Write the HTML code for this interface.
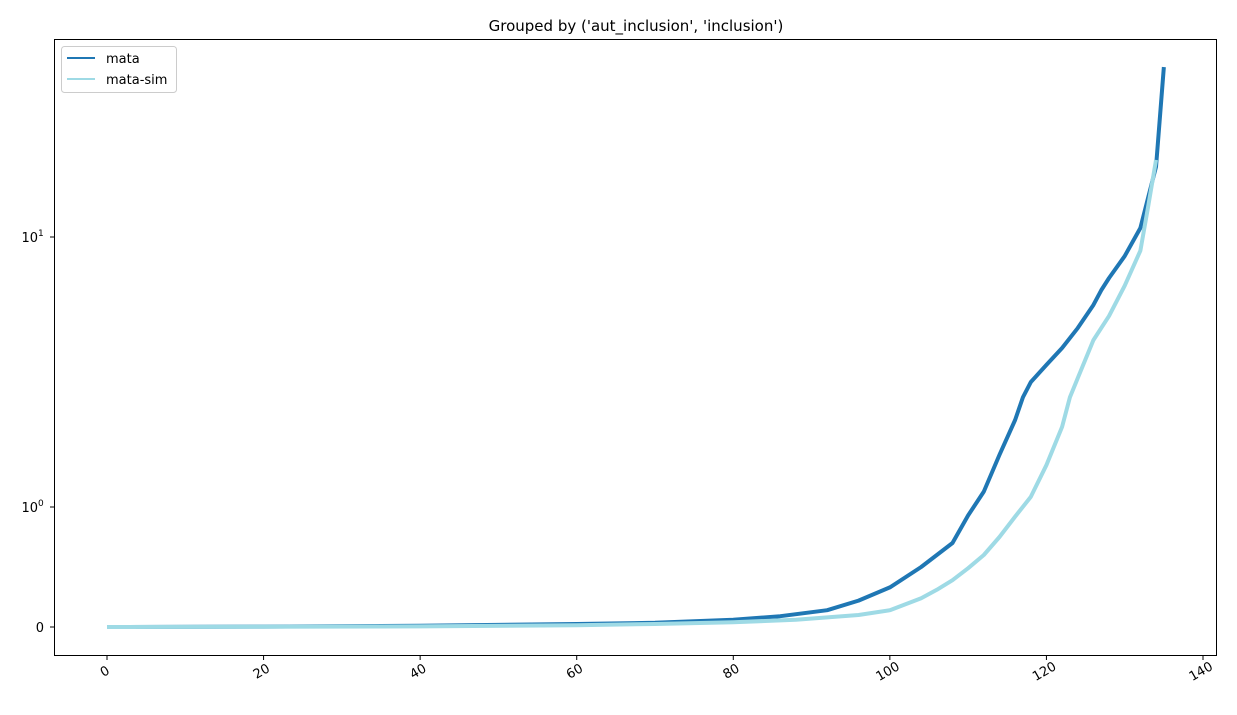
<!DOCTYPE html>
<html><head><meta charset="utf-8"><style>
body{margin:0;background:#fff;font-family:"Liberation Sans","DejaVu Sans",sans-serif}
svg text{font-family:"DejaVu Sans","Liberation Sans",sans-serif}
</style></head><body>
<svg id="chart" width="1237" height="710" xmlns="http://www.w3.org/2000/svg">
<rect width="1237" height="710" fill="#fff"/>
<text x="636" y="31" font-size="15" text-anchor="middle">Grouped by ('aut_inclusion', 'inclusion')</text>
<g id="plot"></g>
<rect x="54.5" y="39.5" width="1162" height="616" fill="none" stroke="#000" stroke-width="1"/>
<g>
<rect x="61.5" y="46.5" width="115" height="46" rx="3" fill="#fff" stroke="#ccc"/>
<line x1="67" y1="58" x2="95" y2="58" stroke="#1f77b4" stroke-width="2"/>
<text x="106" y="63" font-size="13">mata</text>
<line x1="67" y1="79" x2="95" y2="79" stroke="#9edae5" stroke-width="2"/>
<text x="106" y="84" font-size="13">mata-sim</text>
</g>
</svg>
<script>
const xMata=[0,20,40,60,70,80,86,92,96,100,104,108,110,112,114,116,117,118,120,122,124,126,127,128,130,132,134,135];
const yMata=[0,0.003,0.01,0.025,0.035,0.06,0.09,0.14,0.22,0.33,0.5,0.7,0.93,1.14,1.56,2.1,2.55,2.9,3.36,3.88,4.6,5.6,6.35,7.05,8.5,10.8,18.2,42.6];
const xSim=[0,20,40,60,70,80,88,96,100,104,106,108,110,112,114,116,118,120,122,123,124,126,128,130,132,133,134];
const ySim=[0,0.002,0.005,0.015,0.025,0.04,0.06,0.1,0.14,0.24,0.31,0.39,0.49,0.6,0.75,0.92,1.09,1.43,1.98,2.55,3.0,4.15,5.1,6.6,8.9,13,19.3];
const xTicks=[0,20,40,60,80,100,120,140];
const NS="http://www.w3.org/2000/svg";
const sx=v=>107+v*(1203-107)/140;
const sy=v=>v<=1?627-120*v:507-270*Math.log10(v);
const svg=document.getElementById('chart');
const g=document.getElementById('plot');
function mk(t,a,p){const e=document.createElementNS(NS,t);for(const k in a)e.setAttribute(k,a[k]);(p||g).appendChild(e);return e;}
xTicks.forEach(t=>{
 const x=sx(t);
 const l=mk('line',{x1:x,y1:655,x2:x,y2:660,stroke:'#000'},svg);
 
 
 const tx=mk('text',{x:x,y:675,'font-size':13,'text-anchor':'middle',transform:`rotate(-30 ${x} 675)`},svg);
 tx.textContent=t;
 
 
});
[[0,'0',''],[1,'10','0'],[10,'10','1']].forEach(([v,b,e])=>{
 const y=sy(v);
 const l=mk('line',{x1:50,y1:y,x2:54.5,y2:y,stroke:'#000'},svg);
 
 
 const tx=mk('text',{x:e?38:44,y:y+5,'font-size':13,'text-anchor':'end'},svg);
 tx.textContent=b;
 
 
 if(e){const s=mk('text',{x:38,y:y-1,'font-size':9},svg);s.textContent=e;
 
 }
});
function line(xs,ys,c,name){
 const p=mk('polyline',{points:xs.map((x,i)=>sx(x)+','+sy(ys[i])).join(' '),fill:'none',stroke:c,'stroke-width':4,'stroke-linejoin':'round'});
 
 
}
line(xMata,yMata,'#1f77b4','mata-line');
line(xSim,ySim,'#9edae5','mata-sim-line');
</script>
</body></html>
